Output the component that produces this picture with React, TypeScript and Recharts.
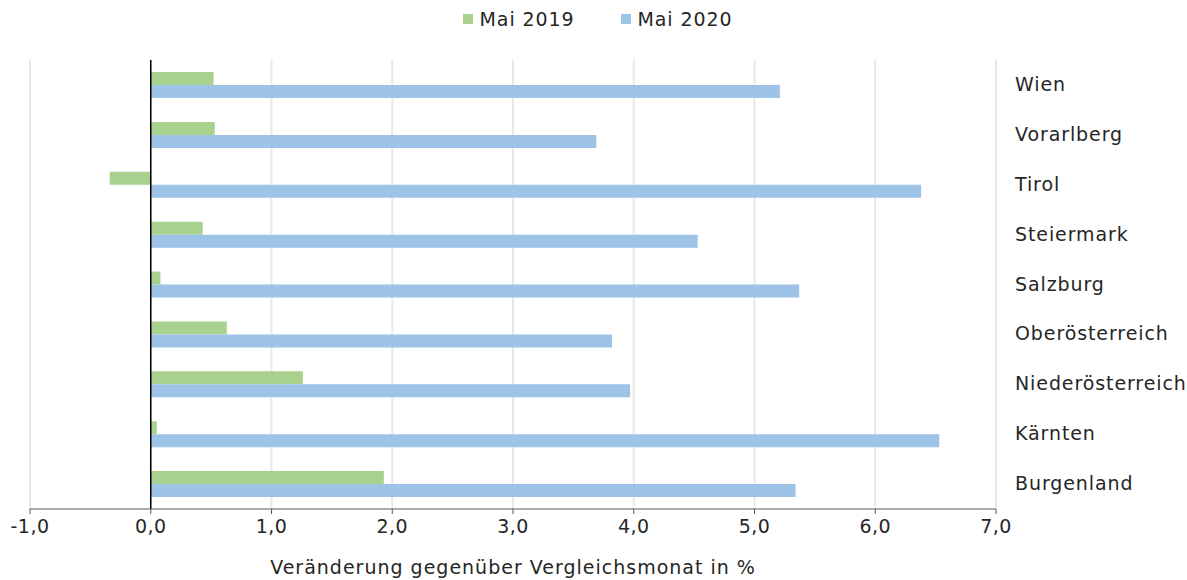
import React from "react";
import { BarChart, Bar, XAxis, YAxis, CartesianGrid, ReferenceLine, Label } from "recharts";

const regions = ["Wien", "Vorarlberg", "Tirol", "Steiermark", "Salzburg", "Oberösterreich", "Niederösterreich", "Kärnten", "Burgenland"];
const mai2019 = [0.52, 0.53, -0.34, 0.43, 0.08, 0.63, 1.26, 0.05, 1.93];
const mai2020 = [5.21, 3.69, 6.38, 4.53, 5.37, 3.82, 3.97, 6.53, 5.34];
const xTicks = [-1, 0, 1, 2, 3, 4, 5, 6, 7];

const data = regions.map((name, i) => ({ name, m2019: mai2019[i], m2020: mai2020[i] }));

const FONT = "'DejaVu Sans', sans-serif";
const GREEN = "#a9d18e";
const BLUE = "#9dc3e6";
const TEXT = "#262626";

if (typeof document !== "undefined") document.body.style.margin = "0";

function RegionTick(props: any) {
  const { x, y, payload } = props;
  return (
    <text x={x + 11} y={y} dy={6} textAnchor="start" fontSize={19} letterSpacing={0.9} fill={TEXT} fontFamily={FONT}>
      {payload.value}
    </text>
  );
}

function TopLegend() {
  const items = [
    { label: "Mai 2019", color: GREEN },
    { label: "Mai 2020", color: BLUE },
  ];
  return (
    <div
      style={{
        position: "absolute",
        top: 8,
        left: 0,
        width: 1187,
        display: "flex",
        justifyContent: "center",
        gap: 46,
        fontFamily: FONT,
        fontSize: 19,
        letterSpacing: 0.9,
        color: TEXT,
        paddingLeft: 8,
        boxSizing: "border-box",
      }}
    >
      {items.map((it) => (
        <div key={it.label} style={{ display: "flex", alignItems: "center" }}>
          <span style={{ width: 10, height: 10, background: it.color, marginRight: 7, display: "inline-block" }} />
          {it.label}
        </div>
      ))}
    </div>
  );
}

export default function App() {
  return (
    <div style={{ width: 1187, height: 580, background: "#fff", position: "relative" }}>
      <TopLegend />
      <BarChart
        width={1187}
        height={580}
        data={data}
        layout="vertical"
        margin={{ top: 60, right: 0, bottom: 0, left: 30 }}
        barSize={13}
        barGap={0}
      >
        <CartesianGrid horizontal={false} stroke="#e8e8e8" strokeWidth={2} />
        <XAxis
          type="number"
          domain={[-1, 7]}
          ticks={xTicks}
          height={71}
          tickFormatter={(v: number) => v.toFixed(1).replace(".", ",")}
          tick={{ fontSize: 19, fill: TEXT, fontFamily: FONT, letterSpacing: 0.5 }}
          tickMargin={6}
          stroke="#595959"
          tickSize={5}
          interval={0}
        >
          <Label
            value="Veränderung gegenüber Vergleichsmonat in %"
            position="insideBottom"
            offset={6}
            style={{ fontSize: 19, fill: TEXT, fontFamily: FONT, letterSpacing: 1 }}
          />
        </XAxis>
        <YAxis
          type="category"
          dataKey="name"
          orientation="right"
          width={191}
          axisLine={false}
          tickLine={false}
          tick={<RegionTick />}
          interval={0}
        />
        <ReferenceLine x={0} stroke="#000" strokeWidth={1.5} />
        <Bar dataKey="m2019" name="Mai 2019" fill={GREEN} isAnimationActive={false} />
        <Bar dataKey="m2020" name="Mai 2020" fill={BLUE} isAnimationActive={false} />
      </BarChart>
    </div>
  );
}
